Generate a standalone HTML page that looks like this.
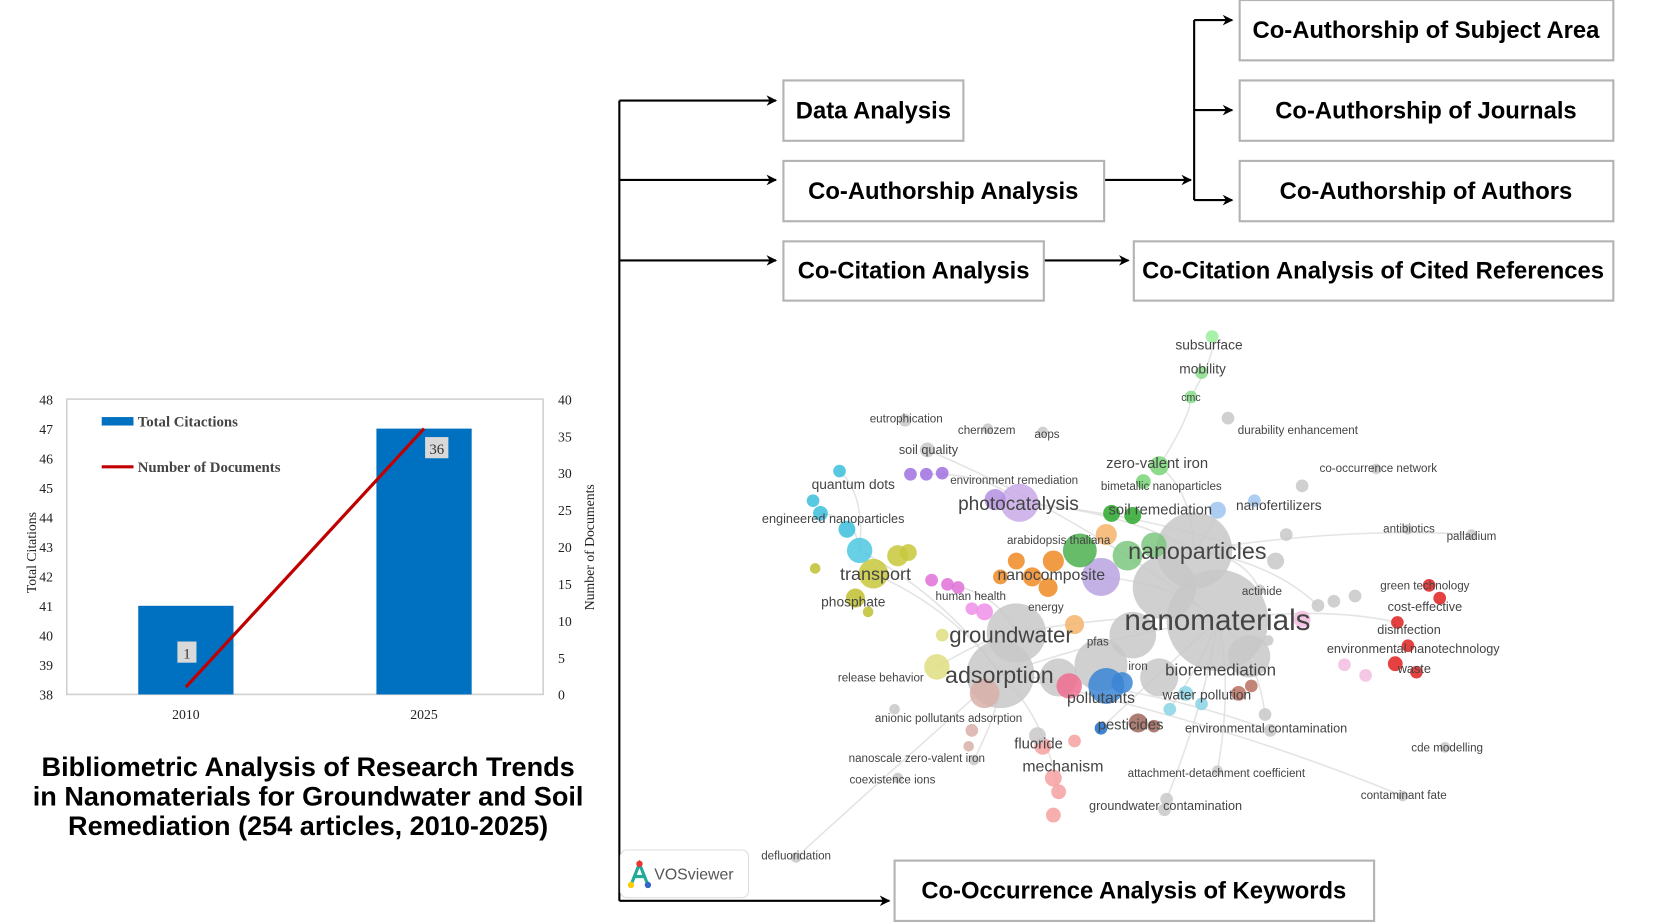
<!DOCTYPE html>
<html><head><meta charset="utf-8">
<style>
html,body{margin:0;padding:0;background:#fff;}
svg{display:block;}
text{font-family:"Liberation Sans",sans-serif;}
.serif{font-family:"Liberation Serif",serif;}
.box{fill:#fff;stroke:#b3b3b3;stroke-width:2;}
.bt{font-weight:bold;font-size:22.5px;fill:#000;text-anchor:middle;}
.ln{stroke:#000;stroke-width:2;fill:none;}
.nl{fill:#444;text-anchor:middle;}
</style></head>
<body>
<svg width="1660" height="922" viewBox="0 0 1568 871" xmlns="http://www.w3.org/2000/svg">
<defs><marker id="ah" viewBox="0 0 10 10" refX="9" refY="5" markerWidth="10" markerHeight="10" markerUnits="userSpaceOnUse" orient="auto"><path d="M0,0 L10,5 L0,10 L3,5 z" fill="#000"/></marker></defs>

<g>
<path class="ln" d="M585,95 V851"/>
<path class="ln" d="M585,95 H733" marker-end="url(#ah)"/>
<path class="ln" d="M585,170 H733" marker-end="url(#ah)"/>
<path class="ln" d="M585,246 H733" marker-end="url(#ah)"/>
<path class="ln" d="M585,851 H840" marker-end="url(#ah)"/>
<path class="ln" d="M1043,170 H1125" marker-end="url(#ah)"/>
<path class="ln" d="M1128,19 V189"/>
<path class="ln" d="M1128,19 H1164" marker-end="url(#ah)"/>
<path class="ln" d="M1128,104 H1164" marker-end="url(#ah)"/>
<path class="ln" d="M1128,189 H1164" marker-end="url(#ah)"/>
<path class="ln" d="M986,246 H1066" marker-end="url(#ah)"/>

<g><rect class="box" x="740" y="76" width="170" height="57"/><text class="bt" x="825" y="112">Data Analysis</text></g>
<g><rect class="box" x="740" y="152" width="303" height="57"/><text class="bt" x="891" y="188">Co-Authorship Analysis</text></g>
<g><rect class="box" x="740" y="228" width="246" height="56"/><text class="bt" x="863" y="263">Co-Citation Analysis</text></g>
<g><rect class="box" x="1171" y="0" width="353" height="57"/><text class="bt" x="1347" y="36">Co-Authorship of Subject Area</text></g>
<g><rect class="box" x="1171" y="76" width="353" height="57"/><text class="bt" x="1347" y="112">Co-Authorship of Journals</text></g>
<g><rect class="box" x="1171" y="152" width="353" height="57"/><text class="bt" x="1347" y="188">Co-Authorship of Authors</text></g>
<g><rect class="box" x="1071" y="228" width="453" height="56"/><text class="bt" x="1297" y="263" font-size="22">Co-Citation Analysis of Cited References</text></g>
<g><rect class="box" x="845" y="813" width="453" height="57"/><text class="bt" x="1071" y="849">Co-Occurrence Analysis of Keywords</text></g>
</g>

<g>
<text x="291" y="733" text-anchor="middle" font-weight="bold" font-size="25.6">Bibliometric Analysis of Research Trends</text>
<text x="291" y="761" text-anchor="middle" font-weight="bold" font-size="25.6">in Nanomaterials for Groundwater and Soil</text>
<text x="291" y="789" text-anchor="middle" font-weight="bold" font-size="25.6">Remediation (254 articles, 2010-2025)</text>
</g>

<g id="chart"></g>
<g id="net"></g>

<g>
<rect x="586" y="803" width="121" height="45" rx="6" fill="#fff" stroke="#ddd"/>
<path d="M596,836 L604,816 L612,836 M600,828 L609,828" stroke="#2a9" stroke-width="3" fill="none"/>
<circle cx="604" cy="816" r="3" fill="#e33"/><circle cx="612" cy="836" r="3" fill="#36c"/><circle cx="596" cy="836" r="3" fill="#fc0"/>
<text x="618" y="831" font-size="15" fill="#555">VOSviewer</text>
</g>
</svg>

<script>
const NS='http://www.w3.org/2000/svg';
const years=['2010','2025'];
const citations=[41,47];
const documents=[1,36];
const leftTicks=[38,39,40,41,42,43,44,45,46,47,48];
const rightTicks=[0,5,10,15,20,25,30,35,40];

function mk(tag,attrs,parent,txt){const e=document.createElementNS(NS,tag);for(const k in attrs)e.setAttribute(k,attrs[k]);if(txt!=null)e.textContent=txt;parent.appendChild(e);return e;}

const chart=document.getElementById('chart');
const PL=63,PR=513,PT=377,PB=656;
const yL=v=>PB-(v-38)/(48-38)*(PB-PT);
const yR=v=>PB-(v-0)/(40-0)*(PB-PT);
const xC=i=>PL+(PR-PL)*(i+0.5)/years.length;
let fr=mk('rect',{x:PL,y:PT,width:PR-PL,height:PB-PT,fill:'#fff',stroke:'#d0d0d0','stroke-width':1.5},chart);


leftTicks.forEach(t=>{let e=mk('text',{x:50,y:yL(t)+5,'text-anchor':'end','font-size':13,class:'serif',fill:'#222'},chart,t);

});
rightTicks.forEach(t=>{let e=mk('text',{x:527,y:yR(t)+5,'text-anchor':'start','font-size':13,class:'serif',fill:'#222'},chart,t);

});
years.forEach((y,i)=>{
 let b=mk('rect',{x:xC(i)-45,y:yL(citations[i]),width:90,height:PB-yL(citations[i]),fill:'#0070c0'},chart);
 
 
 let t=mk('text',{x:xC(i),y:PB+23,'text-anchor':'middle','font-size':13,class:'serif',fill:'#222'},chart,y);
 
 
});
let pts=years.map((y,i)=>xC(i)+','+yR(documents[i])).join(' ');
let pl=mk('polyline',{points:pts,fill:'none',stroke:'#c00000','stroke-width':3},chart);


years.forEach((y,i)=>{
 const lx=xC(i)+(i===0?1:10), ly=yR(documents[i])+(i===0?-32:19);
 let lab=mk('g',{},chart);
 
 
 mk('rect',{x:lx-9,y:ly-11,width:i===0?18:22,height:20,fill:'#d9d9d9'},lab);
 mk('text',{x:lx+(i===0?0:2),y:ly+5,'text-anchor':'middle','font-size':14,class:'serif',fill:'#333'},lab,documents[i]);
});
let lg1=mk('g',{},chart);


mk('rect',{x:96,y:394,width:30,height:8,fill:'#0070c0'},lg1);
mk('text',{x:130,y:403,'font-size':14,'font-weight':'bold',class:'serif',fill:'#444'},lg1,'Total Citactions');
let lg2=mk('g',{},chart);


mk('line',{x1:96,y1:441,x2:126,y2:441,stroke:'#c00000','stroke-width':3},lg2);
mk('text',{x:130,y:446,'font-size':14,'font-weight':'bold',class:'serif',fill:'#444'},lg2,'Number of Documents');
let ya=mk('text',{x:0,y:0,'text-anchor':'middle','font-size':13,class:'serif',fill:'#222',transform:'translate(34,522) rotate(-90)'},chart,'Total Citations');


let yb=mk('text',{x:0,y:0,'text-anchor':'middle','font-size':13,class:'serif',fill:'#222',transform:'translate(561,517) rotate(-90)'},chart,'Number of Documents');



const net=document.getElementById('net');
const G='#c8c8c8';
const nodes=[
[1150,586,48,G],[1128,520,36,G],[1100,555,30,G],[945,637,32,G],[960,598,28,G],[1040,628,25,G],[1070,600,22,G],[1000,640,18,G],[1180,620,20,G],[1095,640,18,G],
[963,475,18,'#c9a9e8'],[940,472,10,'#b58fe0'],[1040,545,18,'#b9a3e0'],[1020,520,16,'#4cb050'],[1065,525,14,'#7bc77e'],[1090,515,12,'#7bc77e'],[1050,485,8,'#2aa82a'],[1070,487,8,'#2aa82a'],
[1095,440,9,'#77d577'],[1080,455,7,'#77d577'],[1125,375,6,'#8d8'],[1135,352,6,'#8d8'],[1145,318,6,'#9e9'],
[1150,482,8,'#9fc5f0'],[1185,473,6,'#9fc5f0'],
[995,530,10,'#f08a24'],[975,545,9,'#f08a24'],[960,530,8,'#f08a24'],[945,545,7,'#f08a24'],[990,555,9,'#f08a24'],[1045,505,10,'#f5b46b'],[1015,590,9,'#f5b46b'],
[825,542,14,'#c8c83c'],[848,525,10,'#c8c83c'],[858,522,8,'#c8c83c'],[808,565,9,'#c0c030'],[820,578,5,'#c0c030'],[770,537,5,'#c0c030'],[885,630,12,'#dede80'],[890,600,6,'#dede80'],
[812,520,12,'#4cc8e0'],[793,445,6,'#3cc0dc'],[768,473,6,'#3cc0dc'],[775,485,7,'#3cc0dc'],[800,500,8,'#3cc0dc'],
[875,448,6,'#a070e0'],[890,447,6,'#a070e0'],[860,448,6,'#a070e0'],
[880,548,6,'#e070d8'],[895,552,6,'#e070d8'],[905,555,6,'#e070d8'],[930,578,8,'#ee90e8'],[918,575,6,'#ee90e8'],
[1045,648,17,'#3a85d5'],[1040,688,6,'#1a70cc'],[1060,645,10,'#3a85d5'],
[1120,655,7,'#8ad4e4'],[1135,665,6,'#8ad4e4'],[1105,670,6,'#8ad4e4'],
[1075,683,9,'#a0665a'],[1090,686,6,'#a0665a'],[1170,655,7,'#b87060'],[1182,648,6,'#b87060'],
[930,655,14,'#d8b0a8'],[918,690,6,'#d8b0a8'],[915,705,5,'#d8b0a8'],[1010,648,12,'#ee6d8f'],
[985,705,8,'#f5a0a0'],[995,735,8,'#f5a0a0'],[1000,748,7,'#f5a0a0'],[995,770,7,'#f5a0a0'],[1015,700,6,'#f5a0a0'],
[1350,553,6,'#e02020'],[1360,565,6,'#e02020'],[1320,588,6,'#e02020'],[1330,610,6,'#e02020'],[1318,627,7,'#e02020'],[1338,635,6,'#e02020'],
[1230,585,8,'#f2bde0'],[1270,628,6,'#f2bde0'],[1290,638,6,'#f2bde0'],
[855,397,6,G],[933,405,5,G],[985,408,5,G],[876,425,7,G],[1160,395,6,G],[1230,459,6,G],[1300,443,5,G],[1215,505,6,G],[1205,530,8,G],[1330,500,5,G],[1390,505,5,G],
[1260,568,6,G],[1245,572,6,G],[1280,563,6,G],[1190,557,5,G],[1198,605,5,G],[845,670,5,G],[1150,728,5,G],[1102,755,6,G],[1100,765,6,G],[980,695,8,G],[1200,690,6,G],[1195,675,6,G],
[920,718,5,G],[848,735,5,G],[752,810,5,G],[1365,706,5,G],[1325,752,5,G]
];
const edges=[[0,3],[0,4],[0,12],[0,58],[0,74],[0,84],[1,10],[1,18],[1,23],[3,32],[3,40],[3,69],[3,106],[4,38],[10,45],[40,41],[40,43],[18,20],[20,22],[3,104],[0,103],[1,95],[0,98],[3,108],[0,110],[1,91],[10,89],[4,49],[0,54],[3,102],[0,99],[1,93],[3,114],[0,112],[0,113]];
edges.forEach(e=>{const a=nodes[e[0]],b=nodes[e[1]];
 if(!a||!b) return;
 let l=mk('path',{d:`M${a[0]},${a[1]} Q${(a[0]+b[0])/2+15},${(a[1]+b[1])/2-15} ${b[0]},${b[1]}`,fill:'none',stroke:'#ddd','stroke-width':1.5,opacity:0.8},net);
 
 });
nodes.forEach(n=>{let c=mk('circle',{cx:n[0],cy:n[1],r:n[2],fill:n[3],opacity:0.85},net);
 
 });
const labels=[
['subsurface',1142,330,13],['mobility',1136,353,13],['cmc',1125,379,10],['eutrophication',856,399,11],['chernozem',932,410,11],['aops',989,414,11],['durability enhancement',1226,410,11],
['soil quality',877,429,12],['zero-valent iron',1093,442,14],['co-occurrence network',1302,446,11],['quantum dots',806,462,13],['environment remediation',958,457,11],['bimetallic nanoparticles',1097,463,11],
['photocatalysis',962,482,18],['soil remediation',1096,486,14],['nanofertilizers',1208,482,13],['engineered nanoparticles',787,494,12],['antibiotics',1331,503,11],['palladium',1390,510,11],
['arabidopsis thaliana',1000,514,11],['nanoparticles',1131,528,22],['transport',827,548,17],['nanocomposite',993,548,15],['green technology',1346,557,11],['actinide',1192,562,11],
['human health',917,567,11],['phosphate',806,573,13],['energy',988,577,11],['cost-effective',1346,577,12],['nanomaterials',1150,595,28],['groundwater',955,607,21],['disinfection',1331,599,12],
['pfas',1037,610,11],['environmental nanotechnology',1335,617,12],['adsorption',944,645,22],['release behavior',832,644,11],['iron',1075,633,11],['bioremediation',1153,638,16],['waste',1336,636,12],
['pollutants',1040,664,15],['water pollution',1140,661,13],['anionic pollutants adsorption',896,682,11],['pesticides',1068,689,14],['environmental contamination',1196,692,12],['fluoride',981,707,14],
['cde modelling',1367,710,11],['nanoscale zero‑valent iron',866,720,11],['mechanism',1004,729,15],['attachment-detachment coefficient',1149,734,11],['coexistence ions',843,740,11],
['contaminant fate',1326,755,11],['groundwater contamination',1101,765,12],['defluoridation',752,812,11]
];
labels.forEach(l=>{let t=mk('text',{x:l[1],y:l[2],'font-size':l[3],class:'nl',fill:l[3]>=20?'#222':'#444'},net,l[0]);
 
 });
</script>
</body></html>
